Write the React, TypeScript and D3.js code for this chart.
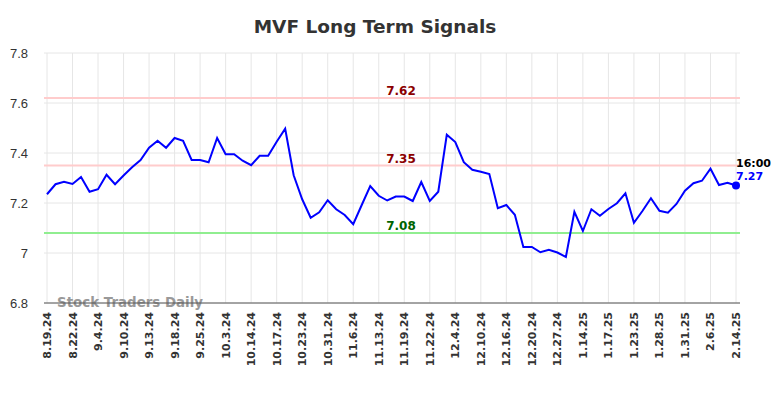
import React, { useEffect, useRef } from 'react';
import * as d3 from 'd3';

// closing values, one per trading session
const prices = [
  7.235, 7.275, 7.285, 7.276, 7.304, 7.245, 7.255, 7.313, 7.275, 7.31,
  7.343, 7.372, 7.421, 7.449, 7.421, 7.46, 7.449, 7.372, 7.372, 7.363,
  7.46, 7.395, 7.395, 7.369, 7.351, 7.389, 7.389, 7.445, 7.497, 7.311,
  7.215, 7.141, 7.163, 7.211, 7.175, 7.152, 7.115, 7.192, 7.268, 7.229,
  7.21, 7.226, 7.226, 7.208, 7.284, 7.208, 7.245, 7.473, 7.444, 7.363,
  7.333, 7.325, 7.316, 7.179, 7.192, 7.153, 7.024, 7.024, 7.003, 7.013,
  7.002, 6.984, 7.165, 7.088, 7.175, 7.149, 7.176, 7.199, 7.239, 7.121,
  7.168, 7.219, 7.169, 7.161, 7.196, 7.249, 7.279, 7.289, 7.337, 7.272,
  7.281, 7.27,
];
// one label every third session
const dateLabels = [
  '8.19.24', '8.22.24', '9.4.24', '9.10.24', '9.13.24', '9.18.24', '9.25.24',
  '10.3.24', '10.14.24', '10.17.24', '10.23.24', '10.31.24', '11.6.24', '11.13.24',
  '11.19.24', '11.22.24', '12.4.24', '12.10.24', '12.16.24', '12.20.24', '12.27.24',
  '1.14.25', '1.17.25', '1.23.25', '1.28.25', '1.31.25', '2.6.25', '2.14.25',
];
const yTicks = [6.8, 7, 7.2, 7.4, 7.6, 7.8];
const signals = [
  { value: 7.62, line: '#ffcccc', text: '#8b0000' },
  { value: 7.35, line: '#ffcccc', text: '#8b0000' },
  { value: 7.08, line: '#90ee90', text: '#006400' },
];
const lastTime = '16:00';

export default function App() {
  const ref = useRef<SVGSVGElement | null>(null);

  useEffect(() => {
    draw();
    // eslint-disable-next-line react-hooks/exhaustive-deps
  }, []);

  function draw() {
    const svg = d3.select(ref.current);
    svg.selectAll('*').remove();
    const font = '"DejaVu Sans", sans-serif';
    const left = 44;
    const right = 740;
    const top = 53;
    const bottom = 303;

    const xScale = d3
      .scalePoint<number>()
      .domain(prices.map((_, i) => i))
      .range([47, 736]);
    const yScale = d3.scaleLinear().domain([6.8, 7.8]).range([bottom, top]);

    svg.append('rect').attr('width', 784).attr('height', 398).attr('fill', '#fff');

    // title
    svg.append('text')
      .text('MVF Long Term Signals')
      .attr('x', 375)
      .attr('y', 33)
      .attr('text-anchor', 'middle')
      .attr('font-family', font)
      .attr('font-weight', 'bold')
      .attr('font-size', 18.5)
      .attr('fill', '#333');

    // grid
    const g = svg.append('g');
    g.selectAll('.hgrid')
      .data(yTicks)
      .enter()
      .append('line')
      .attr('x1', left)
      .attr('x2', right)
      .attr('y1', (d) => yScale(d))
      .attr('y2', (d) => yScale(d))
      .attr('stroke', '#e6e6e6');
    const labelIdx = dateLabels.map((_, i) => i * 3);
    g.selectAll('.vgrid')
      .data(labelIdx)
      .enter()
      .append('line')
      .attr('x1', (d) => xScale(d)!)
      .attr('x2', (d) => xScale(d)!)
      .attr('y1', top)
      .attr('y2', bottom)
      .attr('stroke', '#e6e6e6');

    // y tick labels
    g.selectAll('.ylab')
      .data(yTicks)
      .enter()
      .append('text')
      .text((d) => String(d))
      .attr('x', 28)
      .attr('y', (d) => yScale(d) + 5)
      .attr('text-anchor', 'end')
      .attr('font-family', '"Liberation Sans", Arial, sans-serif')
      .attr('font-size', 13)
      .attr('fill', '#333');

    // x tick labels
    g.selectAll('.xlab')
      .data(dateLabels)
      .enter()
      .append('text')
      .text((d) => d)
      .attr('transform', (_, i) => `translate(${xScale(i * 3)! + 4},312) rotate(-90)`)
      .attr('text-anchor', 'end')
      .attr('font-family', font)
      .attr('font-weight', 'bold')
      .attr('font-size', 11)
      .attr('fill', '#333');

    // signal lines
    signals.forEach((s) => {
      g.append('line')
        .attr('x1', left)
        .attr('x2', right)
        .attr('y1', yScale(s.value))
        .attr('y2', yScale(s.value))
        .attr('stroke', s.line)
        .attr('stroke-width', 2);
      g.append('text')
        .text(s.value.toFixed(2))
        .attr('x', 401)
        .attr('y', yScale(s.value) - 3)
        .attr('text-anchor', 'middle')
        .attr('font-family', font)
        .attr('font-weight', 'bold')
        .attr('font-size', 12)
        .attr('fill', s.text);
    });

    // watermark
    g.append('text')
      .text('Stock Traders Daily')
      .attr('x', 57)
      .attr('y', 307)
      .attr('font-family', font)
      .attr('font-weight', 'bold')
      .attr('font-size', 13.4)
      .attr('fill', '#999');

    // x axis line
    g.append('line')
      .attr('x1', left)
      .attr('x2', right)
      .attr('y1', bottom)
      .attr('y2', bottom)
      .attr('stroke', '#555')
      .attr('stroke-width', 1);

    // price line
    const line = d3
      .line<number>()
      .x((_, i) => xScale(i)!)
      .y((d) => yScale(d));
    g.append('path')
      .datum(prices)
      .attr('d', line)
      .attr('fill', 'none')
      .attr('stroke', '#0000ff')
      .attr('stroke-width', 2);

    const li = prices.length - 1;
    const lx = xScale(li)!;
    const ly = yScale(prices[li]);
    g.append('circle').attr('cx', lx).attr('cy', ly).attr('r', 4).attr('fill', '#0000ff');
    g.append('text')
      .text(lastTime)
      .attr('x', lx)
      .attr('y', ly - 19)
      .attr('font-family', font)
      .attr('font-weight', 'bold')
      .attr('font-size', 11)
      .attr('fill', '#000');
    g.append('text')
      .text(prices[li].toFixed(2))
      .attr('x', lx)
      .attr('y', ly - 6)
      .attr('font-family', font)
      .attr('font-weight', 'bold')
      .attr('font-size', 11)
      .attr('fill', '#0000ff');
  }

  return (
    <svg
      ref={ref}
      width={784}
      height={398}
      style={{ position: 'absolute', left: 0, top: 0, display: 'block' }}
    />
  );
}
